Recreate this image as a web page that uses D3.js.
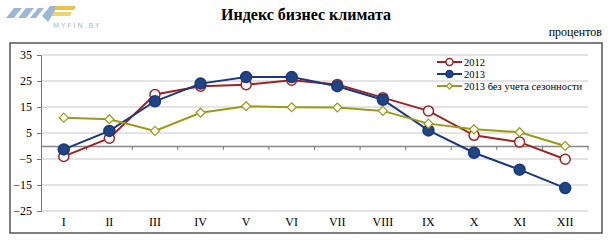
<!DOCTYPE html>
<html>
<head>
<meta charset="utf-8">
<script src="https://cdn.jsdelivr.net/npm/d3@7"></script>
<style>
  body { margin: 0; background: #fff; }
  text { font-family: "Liberation Serif", "DejaVu Serif", serif; }
</style>
</head>
<body>
<div id="viz"></div>
<script>
const months = ["I", "II", "III", "IV", "V", "VI", "VII", "VIII", "IX", "X", "XI", "XII"];
const yTicks = [35, 25, 15, 5, -5, -15, -25];
const values2012 = [-4, 3, 19.8, 23, 23.6, 25.3, 23.7, 18.6, 13.5, 4.1, 1.5, -5.1];
const values2013 = [-1.3, 5.8, 17.2, 24, 26.5, 26.5, 23, 17.8, 6, -2.6, -9.1, -16.2];
const values2013sa = [10.9, 10.3, 5.8, 12.8, 15.3, 14.9, 14.8, 13.5, 8.6, 6.4, 5.3, 0];
const seriesNames = ["2012", "2013", "2013 без учета сезонности"];

const width = 612;
const height = 240;

const svg = d3.select("#viz").append("svg")
    .attr("width", width)
    .attr("height", height);

// logo (decorative)
const logo = svg.append("g").attr("transform", "translate(4,4)");
const shapes = [
    [[2, 14], [10, 4], [18, 4], [10, 14]],
    [[14, 14], [22, 4], [30, 4], [22, 14]],
    [[26, 14], [34, 4], [40, 4], [32, 14]],
    [[38, 12], [46, 2], [54, 2], [44, 18]],
    [[50, 8], [68, 8], [66, 12], [48, 12]],
    [[52, 2], [72, 2], [70, 6], [50, 6]]
];
logo.selectAll("polygon")
    .data(shapes)
    .enter()
    .append("polygon")
    .attr("points", d => d.map(p => p.join(",")).join(" "))
    .attr("fill", (d, i) => i === 4 ? "#f0d36a" : (i === 5 ? "#e7c24a" : "#9db7d4"));
logo.append("text")
    .attr("x", 49)
    .attr("y", 24)
    .style("font-family", "DejaVu Sans, sans-serif")
    .attr("font-size", 7)
    .attr("letter-spacing", 2)
    .attr("fill", "#a9b8c8")
    .text("MYFIN.BY");

svg.append("text")
    .attr("x", 306)
    .attr("y", 20)
    .attr("text-anchor", "middle")
    .attr("font-size", 16)
    .attr("font-weight", "bold")
    .text("Индекс бизнес климата");

svg.append("text")
    .attr("x", 602)
    .attr("y", 36)
    .attr("text-anchor", "end")
    .attr("font-size", 12)
    .text("процентов");

// frame
svg.append("rect")
    .attr("x", 10)
    .attr("y", 43)
    .attr("width", 592)
    .attr("height", 190)
    .attr("fill", "none")
    .attr("stroke", "#555")
    .attr("stroke-width", 1.5);

const x = d3.scaleBand().domain(months).range([41, 588]);
const y = d3.scaleLinear().domain([-25, 35]).range([211, 55]);

// gridlines
svg.append("g")
    .selectAll("line")
    .data(yTicks)
    .enter()
    .append("line")
    .attr("x1", 41)
    .attr("x2", 588)
    .attr("y1", d => y(d))
    .attr("y2", d => y(d))
    .attr("stroke", "#c8c8c8")
    .attr("stroke-width", 1);

// y axis
const yAxis = svg.append("g")
    .attr("transform", "translate(41,0)")
    .call(d3.axisLeft(y).tickValues(yTicks).tickSize(4).tickPadding(5));
yAxis.select(".domain").attr("stroke", "#777");
yAxis.selectAll(".tick line").attr("stroke", "#777");
yAxis.selectAll("text")
    .attr("font-family", "Liberation Serif")
    .attr("font-size", 12)
    .attr("fill", "#000");

// x axis on zero line
const xAxis = svg.append("g")
    .attr("transform", `translate(0,${y(0)})`)
    .call(d3.axisBottom(x).tickSize(0).tickFormat(""));
xAxis.select(".domain").attr("stroke", "#888").attr("stroke-width", 1.5);
svg.append("g")
    .selectAll("line")
    .data(months)
    .enter()
    .append("line")
    .attr("x1", d => x(d) + x.bandwidth())
    .attr("x2", d => x(d) + x.bandwidth())
    .attr("y1", y(0))
    .attr("y2", y(0) + 4)
    .attr("stroke", "#777");

svg.append("g")
    .selectAll("text")
    .data(months)
    .enter()
    .append("text")
    .attr("x", d => x(d) + x.bandwidth() / 2)
    .attr("y", 226)
    .attr("text-anchor", "middle")
    .attr("font-size", 12)
    .text(d => d);

const cx = i => x(months[i]) + x.bandwidth() / 2;
const line = d3.line()
    .x((d, i) => cx(i))
    .y(d => y(d));

const series = [
    { name: seriesNames[0], values: values2012, color: "#9b2525", marker: "circle", fill: "#fff" },
    { name: seriesNames[1], values: values2013, color: "#1c377a", marker: "circle", fill: "#1f4682" },
    { name: seriesNames[2], values: values2013sa, color: "#9a9a18", marker: "diamond", fill: "#fff" }
];

const drawMarker = (g, s, px, py, small) => {
    if (s.marker === "circle") {
        g.append("circle")
            .attr("cx", px)
            .attr("cy", py)
            .attr("r", small ? 3.5 : (s.fill === "#fff" ? 5 : 5.5))
            .attr("fill", s.fill)
            .attr("stroke", s.color)
            .attr("stroke-width", 1.5);
    } else {
        const r = small ? 3 : 4.5;
        g.append("path")
            .attr("d", `M${px},${py - r}L${px + r},${py}L${px},${py + r}L${px - r},${py}Z`)
            .attr("fill", s.fill)
            .attr("stroke", s.color)
            .attr("stroke-width", 1.2);
    }
};

series.forEach(s => {
    const g = svg.append("g");
    g.append("path")
        .datum(s.values)
        .attr("d", line)
        .attr("fill", "none")
        .attr("stroke", s.color)
        .attr("stroke-width", 2);
    s.values.forEach((v, i) => drawMarker(g, s, cx(i), y(v), false));
});

// legend
const legend = svg.append("g");
series.forEach((s, i) => {
    const ly = 62 + i * 12;
    legend.append("line")
        .attr("x1", 437)
        .attr("x2", 462)
        .attr("y1", ly)
        .attr("y2", ly)
        .attr("stroke", s.color)
        .attr("stroke-width", 2);
    drawMarker(legend, s, 449.5, ly, true);
    legend.append("text")
        .attr("x", 464)
        .attr("y", ly + 3.5)
        .attr("font-size", 10.5)
        .text(s.name);
});
</script>
</body>
</html>
